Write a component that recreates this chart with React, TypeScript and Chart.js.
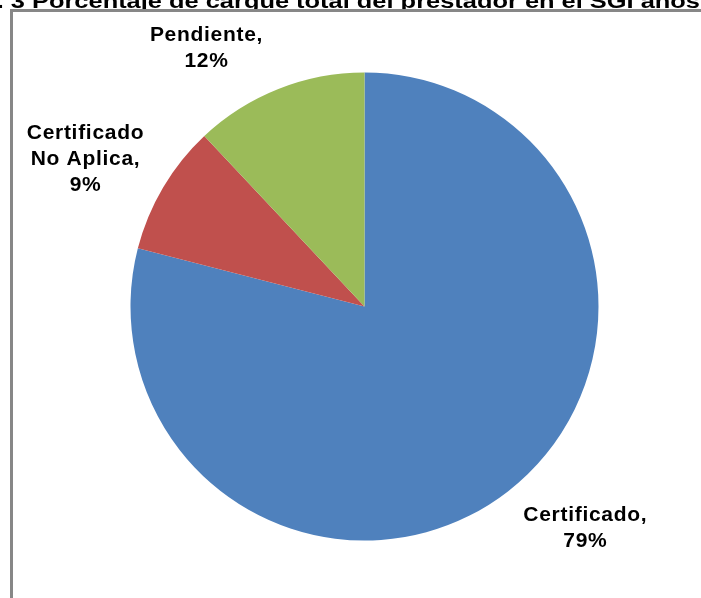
import React, { useEffect, useRef } from "react";
import { Chart, registerables } from "chart.js";

Chart.register(...registerables);

const categories = ["Certificado", "Certificado No Aplica", "Pendiente"];
const values = [79, 9, 12];
const categoryLines = [["Certificado"], ["Certificado", "No Aplica"], ["Pendiente"]];
const colors = ["#4F81BD", "#C0504D", "#9BBB59"];
const titlePrefix = "Gráfico No. 3 ";
const titleMain = "Porcentaje de cargue total del prestador en el SGI años";

// label anchor offsets in units of the pie radius, relative to pie centre
const labelAnchors = [
  [0.942, 0.947],
  [-1.194, -0.63],
  [-0.677, -1.105],
];

const FONT = "bold 21px 'Liberation Sans', Arial, sans-serif";

const framePlugin = {
  id: "frame",
  beforeDraw(chart: any) {
    const ctx = chart.ctx as CanvasRenderingContext2D;
    ctx.save();
    ctx.fillStyle = "#ffffff";
    ctx.fillRect(0, 0, chart.width, chart.height);

    // clipped title
    ctx.font = FONT;
    ctx.fillStyle = "#000000";
    ctx.textBaseline = "alphabetic";
    ctx.textAlign = "left";
    const startX = 32;
    const targetW = 668;
    const w = ctx.measureText(titleMain).width;
    const pw = ctx.measureText(titlePrefix).width;
    const sx = targetW / w;
    ctx.save();
    ctx.translate(startX, 7.5);
    ctx.scale(sx, 1);
    ctx.fillText(titlePrefix + titleMain, -pw, 0);
    ctx.restore();

    ctx.fillStyle = "#ffffff";
    ctx.fillRect(0, 9, chart.width, 6);

    ctx.strokeStyle = "#878787";
    ctx.lineWidth = 3;
    ctx.beginPath();
    ctx.moveTo(11.5, chart.height + 10);
    ctx.lineTo(11.5, 10.5);
    ctx.lineTo(chart.width + 10, 10.5);
    ctx.stroke();
    ctx.restore();
  },
};

const labelPlugin = {
  id: "sliceLabels",
  afterDraw(chart: any) {
    const ctx = chart.ctx as CanvasRenderingContext2D;
    const meta = chart.getDatasetMeta(0);
    ctx.save();
    ctx.font = FONT;
    (ctx as any).letterSpacing = "0.7px";
    ctx.fillStyle = "#000000";
    ctx.textAlign = "center";
    ctx.textBaseline = "middle";
    const lineH = 26;
    meta.data.forEach((arc: any, i: number) => {
      const { x, y, outerRadius } = arc.getProps(["x", "y", "outerRadius"], true);
      const lines = [...categoryLines[i]];
      lines[lines.length - 1] = lines[lines.length - 1] + ",";
      lines.push(values[i] + "%");
      const cx = x + labelAnchors[i][0] * outerRadius;
      const cy = y + labelAnchors[i][1] * outerRadius;
      const top = cy - ((lines.length - 1) * lineH) / 2;
      lines.forEach((ln, k) => {
        ctx.fillText(ln, cx + 0.4, top + k * lineH);
      });
    });
    ctx.restore();
  },
};

export default function App() {
  const ref = useRef<HTMLCanvasElement | null>(null);
  useEffect(() => {
    if (!ref.current) return;
    const chart = new Chart(ref.current, {
      type: "pie",
      data: {
        labels: categories,
        datasets: [
          {
            data: values,
            backgroundColor: colors,
            borderWidth: 0,
          },
        ],
      },
      options: {
        responsive: false,
        animation: false,
        layout: { padding: { left: 130.5, right: 102.5, top: 72.5, bottom: 57.5 } },
        plugins: {
          legend: { display: false },
          tooltip: { enabled: false },
          title: { display: false },
        },
      },
      plugins: [framePlugin, labelPlugin],
    });
    return () => chart.destroy();
  }, []);
  return (
    <div style={{ position: "absolute", left: 0, top: 0, width: 701, height: 598 }}>
      <canvas ref={ref} width={701} height={598} />
    </div>
  );
}
